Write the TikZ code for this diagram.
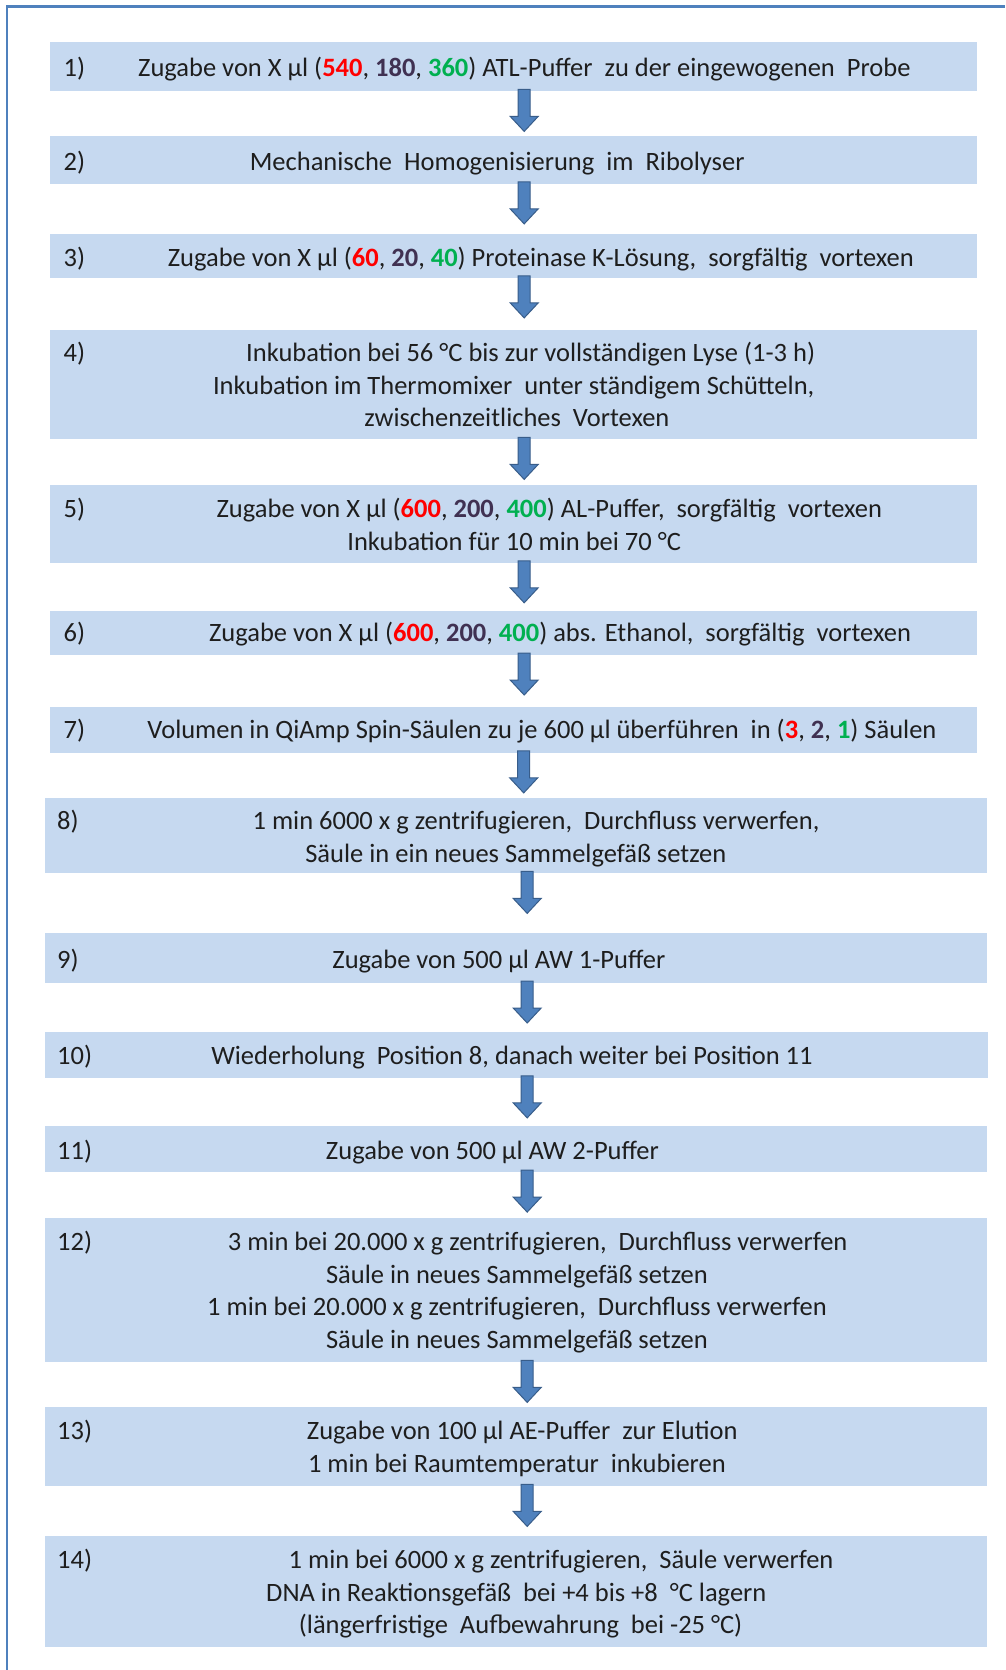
\documentclass[tikz,border=0pt]{standalone}
\usepackage{fontspec}
\setmainfont{Carlito}
\definecolor{boxfill}{RGB}{198,217,240}
\definecolor{frameblue}{RGB}{79,129,189}
\definecolor{arrowfill}{RGB}{79,129,189}
\definecolor{arrowline}{RGB}{56,93,138}
\definecolor{nred}{RGB}{255,0,0}
\definecolor{npurple}{RGB}{64,49,82}
\definecolor{ngreen}{RGB}{0,176,80}
\definecolor{txtcol}{RGB}{30,30,30}
\newcommand\nR[1]{\textcolor{nred}{\textbf{#1}}}
\newcommand\nP[1]{\textcolor{npurple}{\textbf{#1}}}
\newcommand\nG[1]{\textcolor{ngreen}{\textbf{#1}}}
\newcommand\darrow[2]{\draw[blockarrow] ([xshift=#2pt,yshift=2pt]#1.south) ++(-6,0) -- ++(12,0) -- ++(0,27) -- ++(8,0) -- ++(-14,15) -- ++(-14,-15) -- ++(8,0) -- cycle;}
\begin{document}
\begin{tikzpicture}[x=1pt,y=-1pt,
  stepbox/.style={fill=boxfill, draw=none, inner sep=0pt, anchor=north west},
  topbox/.style={stepbox, minimum width=927pt},
  lowbox/.style={stepbox, minimum width=942pt},
  txt/.style={inner sep=0pt, anchor=base, yshift=-2.5pt, text=txtcol, font=\fontsize{26.5}{32.5}\selectfont},
  num/.style={txt, anchor=base west},
  blockarrow/.style={fill=arrowfill, draw=arrowline, line width=1pt, line join=miter}]
\useasboundingbox (0,0) rectangle (1005,1670);
\fill[white] (0,0) rectangle (1005,1670);
\draw[frameblue, line width=2.5pt] (7,1670) -- (7,6.5) -- (1005,6.5);

% boxes
\node[topbox, minimum height=49pt] (b1) at (50,42) {};
\node[topbox, minimum height=48pt] (b2) at (50,135.5) {};
\node[topbox, minimum height=43.5pt] (b3) at (50,234) {};
\node[topbox, minimum height=109.6pt] (b4) at (50,329.4) {};
\node[topbox, minimum height=77.7pt] (b5) at (50,484.7) {};
\node[topbox, minimum height=44pt] (b6) at (50,610.6) {};
\node[topbox, minimum height=45.5pt] (b7) at (50,707) {};
\node[lowbox, minimum height=75pt] (b8) at (45,798) {};
\node[lowbox, minimum height=49.8pt] (b9) at (45,932.8) {};
\node[lowbox, minimum height=45.5pt, minimum width=943pt] (b10) at (45,1032) {};
\node[lowbox, minimum height=45.7pt] (b11) at (45,1126) {};
\node[lowbox, minimum height=144pt] (b12) at (45,1218) {};
\node[lowbox, minimum height=79pt] (b13) at (45,1407) {};
\node[lowbox, minimum height=111pt] (b14) at (45,1536) {};

% arrows
\darrow{b1}{10.5}
\darrow{b2}{10.5}
\darrow{b3}{10.5}
\darrow{b4}{10.5}
\darrow{b5}{10.5}
\darrow{b6}{10.5}
\darrow{b7}{10}
\darrow{b8}{11}
\darrow{b9}{11}
\darrow{b10}{10.5}
\darrow{b11}{11}
\darrow{b12}{11}
\darrow{b13}{11}

% numbers
\node[num] (n1) at (63.5,74) {1)};
\node[num] (n2) at (63.5,167.8) {2)};
\node[num] (n3) at (63.5,263.6) {3)};
\node[num] (n4) at (63.5,359.4) {4)};
\node[num] (n5) at (63.5,514.8) {5)};
\node[num] (n6) at (63.5,639.4) {6)};
\node[num] (n7) at (63.5,736.2) {7)};
\node[num] (n8) at (57,826.8) {8)};
\node[num] (n9) at (57,966.2) {9)};
\node[num] (n10) at (57,1062) {10)};
\node[num] (n11) at (57,1156.8) {11)};
\node[num] (n12) at (57,1248.3) {12)};
\node[num] (n13) at (57,1436.8) {13)};
\node[num] (n14) at (57,1565.6) {14)};

% texts
\node[txt] (t1) at (524.3,74) {Zugabe von X µl (\nR{540}, \nP{180}, \nG{360}) ATL-Puffer\ \ zu der eingewogenen\ \ Probe};
\node[txt] (t2) at (497.2,167.8) {Mechanische\ \ Homogenisierung\ \ im\ \ Ribolyser};
\node[txt] (t3) at (540.8,263.6) {Zugabe von X µl (\nR{60}, \nP{20}, \nG{40}) Proteinase K-Lösung,\ \ sorgfältig\ \ vortexen};
\node[txt] (t4a) at (530.7,359.4) {Inkubation bei 56 °C bis zur vollständigen Lyse (1-3 h)};
\node[txt] (t4b) at (513.7,392.4) {Inkubation im Thermomixer\ \ unter ständigem Schütteln,};
\node[txt] (t4c) at (516.9,424.3) {zwischenzeitliches\ \ Vortexen};
\node[txt] (t5a) at (549.3,514.8) {Zugabe von X µl (\nR{600}, \nP{200}, \nG{400}) AL-Puffer,\ \ sorgfältig\ \ vortexen};
\node[txt] (t5b) at (514.2,547.8) {Inkubation für 10 min bei 70 °C};
\node[txt] (t6) at (560,639.4) {Zugabe von X µl (\nR{600}, \nP{200}, \nG{400}) abs. Ethanol,\ \ sorgfältig\ \ vortexen};
\node[txt] (t7) at (541.9,736.2) {Volumen in QiAmp Spin-Säulen zu je 600 µl überführen\ \ in (\nR{3}, \nP{2}, \nG{1}) Säulen};
\node[txt] (t8a) at (536,826.8) {1 min 6000 x g zentrifugieren,\ \ Durchfluss verwerfen,};
\node[txt] (t8b) at (515.8,859.8) {Säule in ein neues Sammelgefäß setzen};
\node[txt] (t9) at (498.8,966.2) {Zugabe von 500 µl AW 1-Puffer};
\node[txt] (t10) at (512,1062) {Wiederholung\ \ Position 8, danach weiter bei Position 11};
\node[txt] (t11) at (492.4,1156.8) {Zugabe von 500 µl AW 2-Puffer};
\node[txt] (t12a) at (537.6,1248.3) {3 min bei 20.000 x g zentrifugieren,\ \ Durchfluss verwerfen};
\node[txt] (t12b) at (516.9,1281.4) {Säule in neues Sammelgefäß setzen};
\node[txt] (t12c) at (516.9,1313.3) {1 min bei 20.000 x g zentrifugieren,\ \ Durchfluss verwerfen};
\node[txt] (t12d) at (516.9,1346.3) {Säule in neues Sammelgefäß setzen};
\node[txt] (t13a) at (522.2,1436.8) {Zugabe von 100 µl AE-Puffer\ \ zur Elution};
\node[txt] (t13b) at (516.9,1469.8) {1 min bei Raumtemperatur\ \ inkubieren};
\node[txt] (t14a) at (561,1565.6) {1 min bei 6000 x g zentrifugieren,\ \ Säule verwerfen};
\node[txt] (t14b) at (516.3,1598.6) {DNA in Reaktionsgefäß\ \ bei +4 bis +8\ \ °C lagern};
\node[txt] (t14c) at (520.6,1630.5) {(längerfristige\ \ Aufbewahrung\ \ bei -25 °C)};
\end{tikzpicture}
\end{document}
